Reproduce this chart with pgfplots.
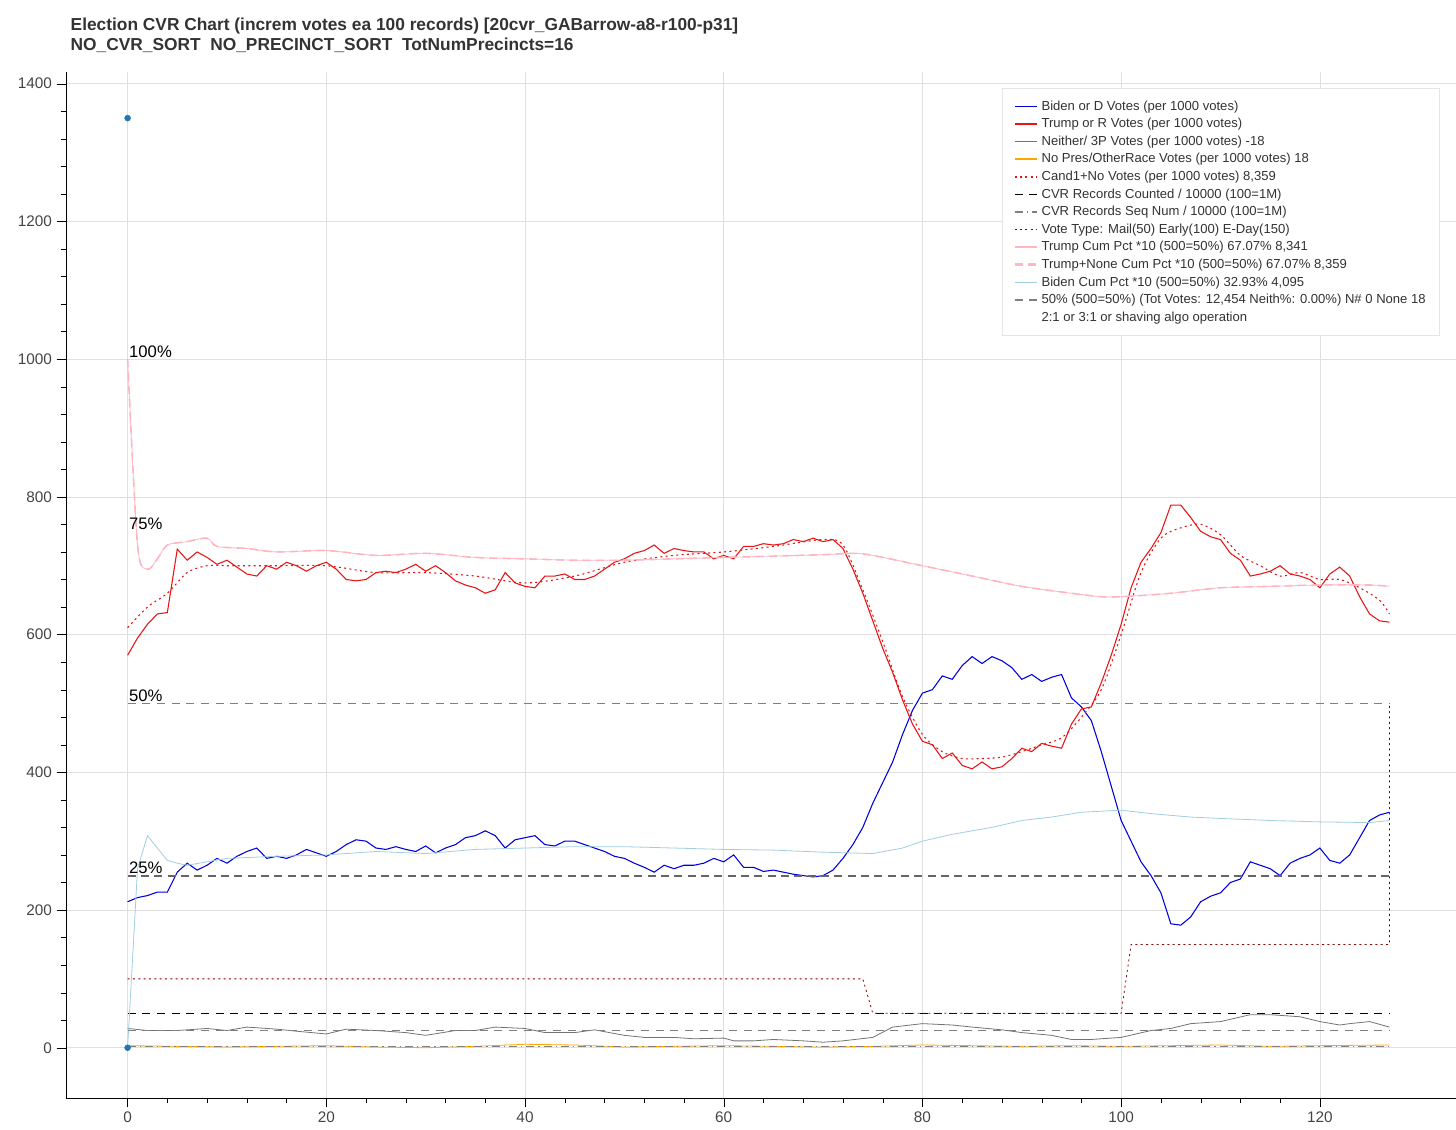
\documentclass[border=0pt]{standalone}
\usepackage{pgfplots}
\pgfplotsset{compat=1.18}
\usepackage{fontspec}
\setmainfont{Liberation Sans}
\definecolor{bblue}{RGB}{0,0,220}
\definecolor{tred}{RGB}{230,20,20}
\definecolor{pinkc}{RGB}{255,182,193}
\definecolor{lblue}{RGB}{160,205,225}
\definecolor{orng}{RGB}{255,165,0}
\definecolor{dred}{RGB}{139,0,0}
\definecolor{tickc}{RGB}{68,68,68}
\begin{document}
\begin{tikzpicture}[x=0.75pt,y=0.75pt]
\useasboundingbox (-66,-31) rectangle (1390,1098);
\begin{axis}[at={(0,0)},anchor=south west,
  scale only axis, width=1042.5pt, height=769.5pt,
  xmin=-6.2, xmax=133.7, ymin=-73, ymax=1417,
  axis lines*=left, axis line style={black},
  tick align=outside, tick style={black},
  xtick={0,20,...,120}, ytick={0,200,...,1400},
  minor x tick num=4, minor y tick num=4,
  major tick length=7pt, minor tick length=4pt,
  grid=major, major grid style={gray!25},
  ticklabel style={font=\fontsize{11.5}{13}\selectfont, text=tickc},
  /pgf/number format/assume math mode=true,
  /pgf/number format/1000 sep={},
  legend style={at={(0.988,0.984)},anchor=north east, draw=gray!20,
    font=\fontsize{9.8}{12}\selectfont, row sep=0.6pt, inner xsep=8pt, inner ysep=7pt, text=black!80},
  legend cell align=left,
  legend image post style={line width=1.1pt},
  clip=false,
  title style={at={(0,1)},yshift=5pt,anchor=south west,align=left,font=\bfseries\fontsize{13}{15}\selectfont,text=black!80},
  title={Election CVR Chart (increm votes ea 100 records) [20cvr\_GABarrow-a8-r100-p31]\\ NO\_CVR\_SORT\ \ NO\_PRECINCT\_SORT\ \ TotNumPrecincts=16},
]
% Biden
\addplot[bblue, thick] coordinates {(0,212)(1,218)(2,221)(3,226)(4,226)(5,255)(6,268)(7,258)(8,265)(9,275)(10,268)(11,278)(12,285)(13,290)(14,275)(15,278)(16,275)(17,280)(18,288)(19,283)(20,278)(21,285)(22,295)(23,302)(24,300)(25,290)(26,288)(27,292)(28,288)(29,285)(30,293)(31,283)(32,290)(33,295)(34,305)(35,308)(36,315)(37,308)(38,290)(39,302)(40,305)(41,308)(42,295)(43,293)(44,300)(45,300)(46,295)(47,290)(48,285)(49,278)(50,275)(51,268)(52,262)(53,255)(54,265)(55,260)(56,265)(57,265)(58,268)(59,275)(60,270)(61,280)(62,262)(63,262)(64,256)(65,258)(66,255)(67,252)(68,250)(69,248)(70,250)(71,258)(72,275)(73,295)(74,320)(75,355)(76,385)(77,415)(78,455)(79,490)(80,515)(81,520)(82,540)(83,535)(84,555)(85,568)(86,558)(87,568)(88,562)(89,552)(90,535)(91,542)(92,532)(93,538)(94,542)(95,508)(96,495)(97,475)(98,430)(99,380)(100,330)(101,300)(102,270)(103,250)(104,225)(105,180)(106,178)(107,190)(108,212)(109,220)(110,225)(111,240)(112,245)(113,270)(114,265)(115,260)(116,250)(117,268)(118,275)(119,280)(120,290)(121,272)(122,268)(123,280)(124,305)(125,330)(126,338)(127,342)};
\addlegendentry{Biden or D Votes (per 1000 votes)}
% Trump
\addplot[tred, thick] coordinates {(0,570)(1,595)(2,615)(3,630)(4,632)(5,724)(6,708)(7,720)(8,712)(9,702)(10,708)(11,698)(12,688)(13,685)(14,700)(15,695)(16,705)(17,700)(18,692)(19,700)(20,705)(21,695)(22,680)(23,678)(24,680)(25,690)(26,692)(27,690)(28,695)(29,702)(30,692)(31,700)(32,690)(33,678)(34,672)(35,668)(36,660)(37,665)(38,690)(39,675)(40,670)(41,668)(42,685)(43,685)(44,688)(45,680)(46,680)(47,685)(48,695)(49,705)(50,710)(51,718)(52,722)(53,730)(54,718)(55,725)(56,722)(57,720)(58,720)(59,710)(60,715)(61,710)(62,728)(63,728)(64,732)(65,730)(66,732)(67,738)(68,735)(69,740)(70,735)(71,738)(72,725)(73,695)(74,660)(75,620)(76,580)(77,545)(78,505)(79,470)(80,445)(81,440)(82,420)(83,428)(84,410)(85,405)(86,415)(87,405)(88,408)(89,420)(90,435)(91,430)(92,442)(93,438)(94,435)(95,470)(96,492)(97,495)(98,530)(99,570)(100,615)(101,668)(102,705)(103,725)(104,748)(105,788)(106,788)(107,770)(108,750)(109,742)(110,738)(111,718)(112,708)(113,685)(114,688)(115,692)(116,700)(117,688)(118,685)(119,680)(120,668)(121,688)(122,698)(123,685)(124,655)(125,630)(126,620)(127,618)};
\addlegendentry{Trump or R Votes (per 1000 votes)}
% Neither
\addplot[gray!90!black, semithick] coordinates {(0,28)(2,25)(5,25)(8,28)(10,25)(12,30)(15,27)(17,24)(20,20)(22,27)(25,25)(28,22)(30,18)(33,25)(35,25)(37,30)(40,28)(42,22)(45,22)(47,26)(50,18)(52,15)(55,15)(57,13)(60,14)(61,10)(63,10)(65,12)(68,10)(70,8)(72,10)(75,15)(77,30)(80,35)(83,33)(85,30)(88,26)(90,22)(93,18)(95,12)(97,12)(100,15)(103,25)(105,28)(107,35)(110,38)(113,48)(115,48)(118,45)(120,38)(122,33)(123,35)(125,38)(127,30)};
\addlegendentry{Neither/ 3P Votes (per 1000 votes) -18}
% No Pres
\addplot[orng, semithick] coordinates {(0,3)(5,2)(10,1)(15,2)(20,3)(25,1)(30,0)(35,2)(40,5)(45,4)(50,1)(55,2)(60,3)(65,2)(70,1)(75,2)(80,4)(85,3)(90,2)(95,3)(100,2)(105,3)(110,4)(115,2)(120,3)(127,4)};
\addlegendentry{No Pres/OtherRace Votes (per 1000 votes) 18}
% Cand1+No
\addplot[tred, thick, dash pattern=on 1.5pt off 2.5pt, smooth] coordinates {(0,610)(2,640)(4,660)(6,690)(8,700)(10,700)(15,700)(20,700)(25,690)(30,690)(35,685)(40,675)(45,685)(50,705)(55,715)(60,720)(65,728)(70,738)(72,730)(74,665)(76,590)(78,510)(80,455)(82,430)(84,420)(86,420)(88,422)(90,430)(92,440)(94,450)(96,480)(98,520)(100,600)(102,690)(104,740)(106,755)(108,760)(110,745)(112,715)(114,700)(116,685)(118,690)(120,680)(122,680)(124,668)(126,650)(127,630)};
\addlegendentry{Cand1+No Votes (per 1000 votes) 8,359}
% CVR counted
\addplot[black, thick, dash pattern=on 6pt off 5pt] coordinates {(0,50)(127,50)};
\addlegendentry{CVR Records Counted / 10000 (100=1M)}
% Seq num
\addplot[gray, dash pattern=on 6pt off 3pt on 1pt off 3pt] coordinates {(0,2)(127,2)};
\addlegendentry{CVR Records Seq Num / 10000 (100=1M)}
% Vote type
\addplot[dred, semithick, dash pattern=on 1.5pt off 2.5pt] coordinates {(0,100)(74,100)(75,50)(100,50)(101,150)(127,150)(127,500)};
\addlegendentry{Vote Type: Mail(50) Early(100) E-Day(150)}
% Trump cum
\addplot[pinkc, semithick, smooth] coordinates {(0,1000)(1,730)(2,695)(3,710)(4,730)(6,735)(8,740)(9,728)(12,725)(15,720)(20,722)(25,715)(30,718)(35,712)(40,710)(45,708)(50,708)(55,710)(60,712)(65,714)(70,716)(73,718)(75,715)(80,700)(85,685)(90,670)(95,660)(98,655)(100,655)(105,660)(110,668)(115,670)(120,672)(125,672)(127,670)};
\addlegendentry{Trump Cum Pct *10 (500=50\%) 67.07\% 8,341}
\addplot[pinkc, very thick, dash pattern=on 6pt off 4pt, smooth, legend image post style={line width=2.2pt}] coordinates {(0,1000)(1,730)(2,695)(3,710)(4,730)(6,735)(8,740)(9,728)(12,725)(15,720)(20,722)(25,715)(30,718)(35,712)(40,710)(45,708)(50,708)(55,710)(60,712)(65,714)(70,716)(73,718)(75,715)(80,700)(85,685)(90,670)(95,660)(98,655)(100,655)(105,660)(110,668)(115,670)(120,672)(125,672)(127,670)};
\addlegendentry{Trump+None Cum Pct *10 (500=50\%) 67.07\% 8,359}
% Biden cum
\addplot[lblue, semithick] coordinates {(0,0)(1,260)(2,308)(3,290)(4,272)(5,268)(6,265)(8,270)(10,275)(15,278)(20,280)(25,285)(30,282)(35,288)(40,290)(45,292)(50,292)(55,290)(60,288)(65,287)(70,284)(75,282)(78,290)(80,300)(83,310)(87,320)(90,330)(93,335)(96,342)(100,345)(103,340)(107,335)(110,333)(115,330)(120,328)(125,327)(127,330)};
\addlegendentry{Biden Cum Pct *10 (500=50\%) 32.93\% 4,095}
% 50%
\addplot[gray, semithick, dash pattern=on 6pt off 5pt] coordinates {(0,500)(127,500)};
\addlegendentry{50\% (500=50\%) (Tot Votes: 12,454 Neith\%: 0.00\%) N\# 0 None 18}
\addlegendimage{empty legend}
\addlegendentry{2:1 or 3:1 or shaving algo operation}
\addplot[gray!80!black, line width=1.6pt, dash pattern=on 6pt off 4pt, forget plot] coordinates {(0,250)(127,250)};
\addplot[gray, thick, dash pattern=on 6pt off 5pt, forget plot] coordinates {(0,25)(127,25)};
\addplot[only marks, mark=*, mark size=2.2pt, color={rgb,255:red,31;green,119;blue,180}, forget plot] coordinates {(0,1350)(0,0)};
\node[anchor=south west, font=\fontsize{12.5}{14}\selectfont, inner sep=1pt] at (axis cs:0,1000) {100\%};
\node[anchor=south west, font=\fontsize{12.5}{14}\selectfont, inner sep=1pt] at (axis cs:0,750) {75\%};
\node[anchor=south west, font=\fontsize{12.5}{14}\selectfont, inner sep=1pt] at (axis cs:0,500) {50\%};
\node[anchor=south west, font=\fontsize{12.5}{14}\selectfont, inner sep=1pt] at (axis cs:0,250) {25\%};
\end{axis}
\end{tikzpicture}
\end{document}
